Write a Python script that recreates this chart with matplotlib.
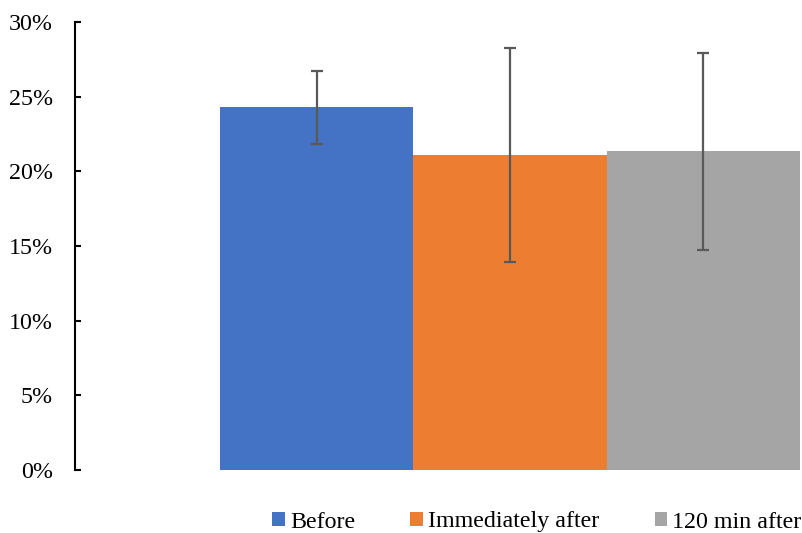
import matplotlib
matplotlib.use("Agg")
import matplotlib.pyplot as plt
from matplotlib.patches import Patch
from matplotlib.ticker import PercentFormatter

# Share of measurements (%) at each time point, with standard deviations
series = ["Before", "Immediately after", "120 min after"]
means = [24.3, 21.1, 21.35]
errors = [2.45, 7.15, 6.6]
colors = ["#4472C4", "#ED7D31", "#A5A5A5"]
yticks = [0, 5, 10, 15, 20, 25, 30]

FS = 17.3
plt.rcParams["font.family"] = ["Liberation Serif", "DejaVu Serif"]
plt.rcParams["font.size"] = FS

W, H = 803, 533
fig = plt.figure(figsize=(W / 100, H / 100), dpi=100)
left, right = 75, 803
bottom, top = 470, 22
ax = fig.add_axes([left / W, (H - bottom) / H, (right - left) / W, (bottom - top) / H])

positions = list(range(len(series)))
ax.bar(positions, means, width=1.0, color=colors, zorder=2)
ax.errorbar(positions, means, yerr=errors, fmt="none", ecolor="#595959",
            elinewidth=1.6, capsize=4.3, capthick=1.6, zorder=3)

ax.set_xlim(-1.25, 2.516)
ax.set_ylim(0, 30)
ax.set_yticks(yticks)
ax.yaxis.set_major_formatter(PercentFormatter(decimals=0))
ax.set_xticks([])

for side in ("top", "right", "bottom"):
    ax.spines[side].set_visible(False)
ax.spines["left"].set_linewidth(1.5)
ax.tick_params(axis="y", direction="in", length=4.5, width=1.5, pad=16,
               labelsize=FS)

handles = [Patch(facecolor=c, edgecolor="none") for c in colors]
fig.legend(handles, series, loc="center", ncol=3, frameon=False,
           bbox_to_anchor=(537 / W, 1 - 522 / H), fontsize=FS,
           handlelength=0.52, handleheight=0.52, handletextpad=0.22,
           columnspacing=2.3)

fig.savefig("out.png", dpi=100)
